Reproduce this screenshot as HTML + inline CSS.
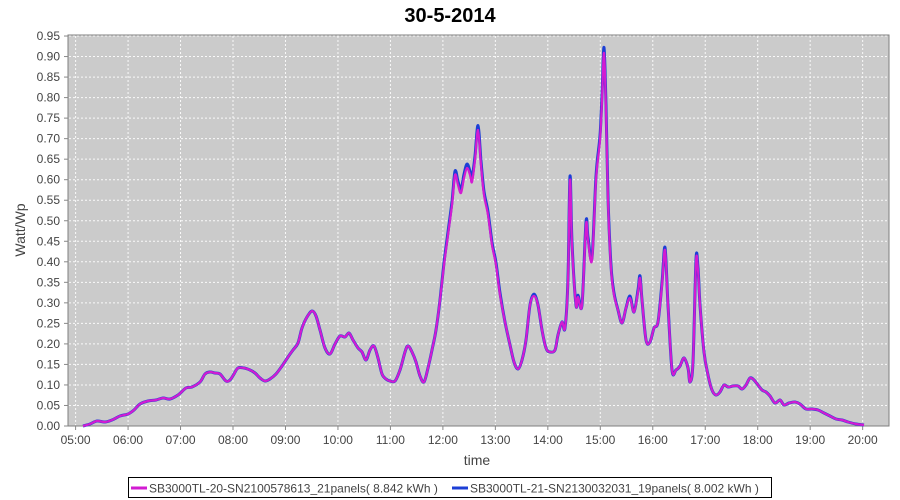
<!DOCTYPE html>
<html><head><meta charset="utf-8"><style>
body{margin:0;background:#fff;}
svg{display:block;font-family:"Liberation Sans",sans-serif;}
</style></head><body>
<svg width="900" height="500" viewBox="0 0 900 500">
<text x="450" y="22" text-anchor="middle" font-size="20" font-weight="bold">30-5-2014</text>
<rect x="68" y="35" width="821" height="391" fill="#cbcbcb" stroke="#7f7f7f"/>
<g stroke="#fff" stroke-dasharray="2,2" stroke-width="1" opacity="0.9" id="grid"></g>
<g id="ax" font-size="12" fill="#444"></g>
<text x="477" y="465" text-anchor="middle" font-size="14" fill="#444">time</text>
<text transform="translate(25,230) rotate(-90)" text-anchor="middle" font-size="14" fill="#444">Watt/Wp</text>
<path id="blue" fill="none" stroke="#1c3fd6" stroke-width="3" stroke-linejoin="round"/>
<path id="mag" fill="none" stroke="#d21bd2" stroke-width="2.2" stroke-linejoin="round"/>
<rect x="128.5" y="477.5" width="643" height="20" fill="#fff" stroke="#000"/>
<line x1="131" y1="488" x2="147" y2="488" stroke="#d21bd2" stroke-width="3"/>
<text x="149" y="492.5" font-size="12" fill="#444">SB3000TL-20-SN2100578613_21panels( 8.842 kWh )</text>
<line x1="452" y1="488" x2="468" y2="488" stroke="#1c3fd6" stroke-width="3"/>
<text x="470" y="492.5" font-size="12" fill="#444">SB3000TL-21-SN2130032031_19panels( 8.002 kWh )</text>
</svg>
<script>
var ns="http://www.w3.org/2000/svg",g=document.getElementById('grid'),ax=document.getElementById('ax');
function el(p,t,a,txt){var e=document.createElementNS(ns,t);for(var k in a)e.setAttribute(k,a[k]);if(txt)e.textContent=txt;p.appendChild(e);}
for(var i=0;i<=19;i++){var v=i*0.05,y=426-v*410.5;
 if(i>0)el(g,'line',{x1:69,x2:888,y1:y,y2:y});
 el(ax,'line',{x1:64,x2:68,y1:y,y2:y,stroke:'#888'});
 el(ax,'text',{x:60,y:y+4,'text-anchor':'end'},v.toFixed(2));}
for(var h=5;h<=20;h++){var x=75.6+(h-5)*52.47;
 el(g,'line',{x1:x,x2:x,y1:36,y2:425});
 el(ax,'line',{x1:x,x2:x,y1:426,y2:430,stroke:'#888'});
 el(ax,'text',{x:x,y:444,'text-anchor':'middle'},(h<10?'0':'')+h+':00');}
var p=[[83,426],[90,424],[97,421],[105,422],[112,420],[120,416],[128,414],[134,410],[140,404],[148,401],[156,400],[163,398],[170,399],[178,395],[186,388],[192,387],[200,382],[205,374],[210,372],[215,373],[220,374],[226,381],[230,380],[234,374],[238,368],[244,368],[250,370],[255,373],[260,378],[265,381],[270,379],[276,374],[282,366],[288,357],[293,350],[298,343],[302,328],[307,317],[312,311],[316,316],[320,330],[325,348],[330,354],[335,344],[340,336],[345,337],[349,333],[353,340],[358,348],[362,352],[366,360],[370,350],[374,346],[378,358],[382,374],[386,379],[390,381],[395,381],[400,370],[405,352],[408,346],[412,352],[416,362],[420,376],[424,382],[428,368],[432,350],[436,330],[440,300],[444,265],[448,235],[452,205],[455,175],[458,185],[461,193],[464,178],[467,168],[470,175],[472,182],[475,160],[478,130],[481,165],[484,195],[488,215],[492,245],[496,265],[500,295],[505,322],[510,345],[514,362],[518,369],[522,360],[526,340],[530,305],[534,296],[538,305],[542,330],[546,348],[550,352],[555,350],[558,335],[562,322],[565,328],[568,280],[570,180],[572,245],[576,305],[578,297],[582,305],[586,225],[588,240],[592,260],[596,180],[600,140],[602,100],[604,53],[606,110],[608,200],[611,268],[614,295],[618,310],[622,323],[626,308],[630,298],[634,312],[638,292],[640,278],[642,300],[646,340],[650,342],[654,328],[658,322],[662,285],[665,250],[668,305],[672,370],[676,370],[680,366],[684,358],[688,368],[690,382],[693,362],[696,262],[698,270],[700,305],[704,352],[708,375],[712,390],[716,395],[720,392],[724,385],[728,387],[733,386],[738,386],[742,389],[746,385],[750,378],[754,380],[758,385],[762,390],[766,392],[770,396],[775,403],[780,400],[784,405],[789,403],[795,402],[800,404],[806,409],[812,409],[818,410],[824,413],[830,416],[836,419],[842,420],[848,422],[856,424],[864,425]];
function path(q){var d='M'+q[0][0]+','+q[0][1];
 for(var i=0;i<q.length-1;i++){var p0=q[Math.max(i-1,0)],p1=q[i],p2=q[i+1],p3=q[Math.min(i+2,q.length-1)];
  var c1x=p1[0]+(p2[0]-p0[0])/6,c1y=p1[1]+(p2[1]-p0[1])/6,c2x=p2[0]-(p3[0]-p1[0])/6,c2y=p2[1]-(p3[1]-p1[1])/6;
  d+=' C'+c1x.toFixed(1)+','+c1y.toFixed(1)+' '+c2x.toFixed(1)+','+c2y.toFixed(1)+' '+p2[0]+','+p2[1];}
 return d;}
var b=p.map(function(a){var y=a[1];if(y<300)y=y-(426-y)*0.015;return [a[0],+y.toFixed(1)]});
document.getElementById('blue').setAttribute('d',path(b));
document.getElementById('mag').setAttribute('d',path(p));
</script>
</body></html>
